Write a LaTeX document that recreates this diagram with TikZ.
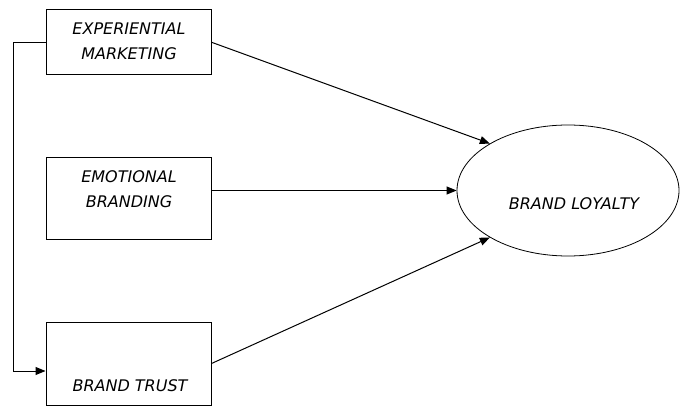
\documentclass[tikz,border=0pt]{standalone}
\usepackage{fontspec}
\setmainfont{DejaVu Sans}
\usetikzlibrary{arrows.meta,shapes.geometric}
\begin{document}
\begin{tikzpicture}[x=1pt,y=-1pt,
                    box/.style = {draw,line width=1pt,minimum width=165pt,inner sep=0pt},
                    txt/.style = {font=\fontsize{16pt}{25pt}\selectfont\itshape,align=center,inner sep=0pt},
                    arrow/.style = {line width=1pt,-{Triangle[length=10pt,width=8pt]}}]
                    \useasboundingbox (0,0) rectangle (680,406);
                    
                    \node[box,minimum height=65.5pt] (exp) at (128.5,42.25) {};
                    \node[box,minimum height=82pt] (emo) at (128.5,199) {};
                    \node[box,minimum height=83pt] (trust) at (128.5,363.5) {};
                    \node[draw,line width=0.8pt,ellipse,minimum width=222pt,minimum height=131pt,inner sep=0pt] (loyal) at (568,190.5) {};
                    
                    \node[txt] (exptxt) at (129,41.5) {EXPERIENTIAL\\MARKETING};
                    \node[txt] (emotxt) at (129,189.5) {EMOTIONAL\\BRANDING};
                    \node[txt] (trusttxt) at (130,385.5) {BRAND TRUST};
                    \node[txt] (loyaltxt) at (574,204) {BRAND LOYALTY};
                    
                    \draw[arrow] (exp.east) -- (loyal.149);
                    \draw[arrow] (loyal.west -| emo.east) -- (loyal.west);
                    \draw[arrow] (trust.east) -- (loyal.211);
                    \draw[arrow] (exp.west) -- ++(-32.5,0) |- ([yshift=-7.5pt]trust.west);
                \end{tikzpicture}
\end{document}
